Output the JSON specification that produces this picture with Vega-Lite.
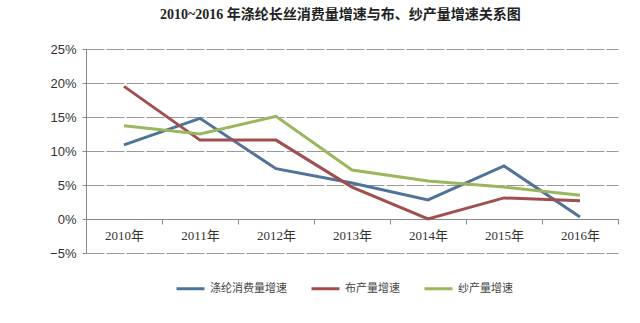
{
  "$schema": "https://vega.github.io/schema/vega-lite/v6.json",
  "width": 532,
  "height": 204,
  "autosize": "none",
  "padding": {"left": 86, "top": 49, "right": 22, "bottom": 70},
  "background": "#ffffff",
  "title": {
    "text": "2010~2016 年涤纶长丝消费量增速与布、纱产量增速关系图",
    "font": "Liberation Serif, Noto Sans CJK SC",
    "fontSize": 14,
    "fontWeight": "bold",
    "color": "#222222",
    "anchor": "start",
    "frame": "group",
    "dx": 74,
    "offset": 7,
    "baseline": "bottom"
  },
  "data": {
    "values": [
      {"year": "2010年", "series": "涤纶消费量增速", "v": 0.109},
      {"year": "2011年", "series": "涤纶消费量增速", "v": 0.148},
      {"year": "2012年", "series": "涤纶消费量增速", "v": 0.074},
      {"year": "2013年", "series": "涤纶消费量增速", "v": 0.053},
      {"year": "2014年", "series": "涤纶消费量增速", "v": 0.028},
      {"year": "2015年", "series": "涤纶消费量增速", "v": 0.078},
      {"year": "2016年", "series": "涤纶消费量增速", "v": 0.003},
      {"year": "2010年", "series": "布产量增速", "v": 0.195},
      {"year": "2011年", "series": "布产量增速", "v": 0.116},
      {"year": "2012年", "series": "布产量增速", "v": 0.116},
      {"year": "2013年", "series": "布产量增速", "v": 0.047},
      {"year": "2014年", "series": "布产量增速", "v": 0.0},
      {"year": "2015年", "series": "布产量增速", "v": 0.031},
      {"year": "2016年", "series": "布产量增速", "v": 0.027},
      {"year": "2010年", "series": "纱产量增速", "v": 0.137},
      {"year": "2011年", "series": "纱产量增速", "v": 0.125},
      {"year": "2012年", "series": "纱产量增速", "v": 0.151},
      {"year": "2013年", "series": "纱产量增速", "v": 0.072},
      {"year": "2014年", "series": "纱产量增速", "v": 0.056},
      {"year": "2015年", "series": "纱产量增速", "v": 0.047},
      {"year": "2016年", "series": "纱产量增速", "v": 0.035}
    ]
  },
  "mark": {"type": "line", "strokeWidth": 3, "strokeJoin": "miter"},
  "encoding": {
    "x": {
      "field": "year",
      "type": "nominal",
      "sort": null,
      "scale": {"type": "band", "paddingInner": 0, "paddingOuter": 0},
      "axis": {
        "title": null,
        "labelAngle": 0,
        "offset": -34,
        "tickBand": "extent",
        "tickSize": 5,
        "tickColor": "#888888",
        "domainColor": "#888888",
        "grid": false,
        "labelFont": "Liberation Serif, Noto Sans CJK SC",
        "labelFontSize": 13,
        "labelColor": "#333333",
        "labelPadding": 5
      }
    },
    "y": {
      "field": "v",
      "type": "quantitative",
      "scale": {"domain": [-0.05, 0.25], "nice": false, "zero": false},
      "axis": {
        "title": null,
        "values": [-0.05, 0, 0.05, 0.1, 0.15, 0.2, 0.25],
        "format": ".0%",
        "tickSize": 4,
        "tickColor": "#888888",
        "domainColor": "#888888",
        "gridColor": "#999999",
        "gridDash": [18, 2],
        "labelFont": "Liberation Sans",
        "labelFontSize": 13,
        "labelColor": "#333333",
        "labelPadding": 6
      }
    },
    "color": {
      "field": "series",
      "type": "nominal",
      "scale": {
        "domain": ["涤纶消费量增速", "布产量增速", "纱产量增速"],
        "range": ["#4f7399", "#a04f4e", "#9bb65d"]
      },
      "legend": {
        "title": null,
        "orient": "none",
        "direction": "horizontal",
        "legendX": 89,
        "legendY": 224,
        "symbolType": "stroke",
        "symbolSize": 784,
        "symbolStrokeWidth": 3,
        "labelFont": "Noto Sans CJK SC",
        "labelFontSize": 11,
        "labelColor": "#444444",
        "labelOffset": 4,
        "columnPadding": 18,
        "padding": 0
      }
    }
  },
  "config": {"view": {"stroke": null}}
}
